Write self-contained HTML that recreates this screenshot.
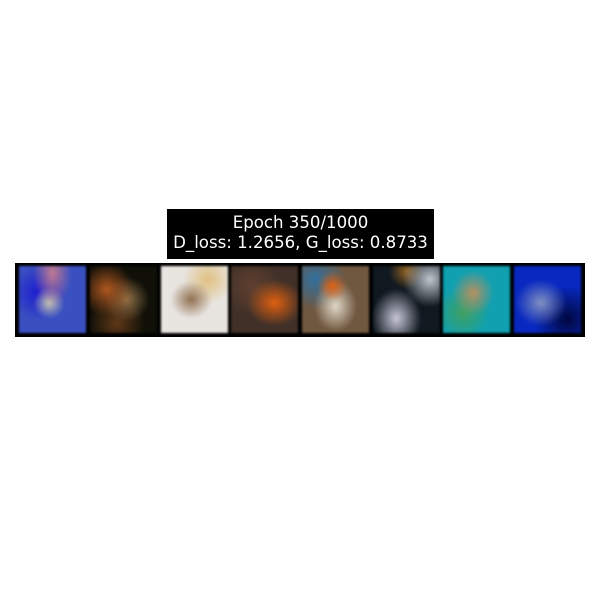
<!DOCTYPE html>
<html><head><meta charset="utf-8"><style>
body{margin:0;width:600px;height:600px;background:#fff;position:relative;overflow:hidden;font-family:"DejaVu Sans","Liberation Sans",sans-serif}
#title{position:absolute;left:167px;top:209px;width:267px;height:50px;background:#000;color:#fff;font-size:16.6px;line-height:20px;text-align:center;padding-top:4px;box-sizing:border-box}
#frame{position:absolute;left:15px;top:263px;width:570px;height:74px;background:#000}
.im{position:absolute;top:3px;width:67px;height:67px;filter:blur(1px)}
</style></head><body>
<div id="title">Epoch 350/1000<br>D_loss: 1.2656, G_loss: 0.8733</div>
<div id="frame">
<div class="im" style="left:4px;background:radial-gradient(ellipse at 50% 10%,#c07890 0,transparent 40%),radial-gradient(ellipse at 45% 55%,#c8c8b0 0,transparent 30%),radial-gradient(circle at 30% 40%,#1a1ad0 0,transparent 45%),#3a50c0"></div>
<div class="im" style="left:75px;background:radial-gradient(circle at 25% 35%,#b05820 0,transparent 40%),radial-gradient(circle at 55% 50%,#907048 0,transparent 45%),radial-gradient(circle at 40% 85%,#603818 0,transparent 40%),#101008"></div>
<div class="im" style="left:146px;background:radial-gradient(ellipse at 45% 50%,#907050 0,transparent 40%),radial-gradient(circle at 70% 20%,#e0c080 0,transparent 35%),#e8e4e0"></div>
<div class="im" style="left:216px;background:radial-gradient(ellipse at 65% 55%,#e06010 0,transparent 45%),radial-gradient(circle at 30% 30%,#604030 0,transparent 45%),#403028"></div>
<div class="im" style="left:287px;background:radial-gradient(circle at 45% 30%,#e06010 0,transparent 25%),radial-gradient(ellipse at 50% 60%,#e0d8c8 0,transparent 45%),radial-gradient(circle at 20% 20%,#3070a0 0,transparent 40%),#705840"></div>
<div class="im" style="left:358px;background:radial-gradient(ellipse at 35% 78%,#c8c8d8 0,transparent 40%),radial-gradient(circle at 85% 20%,#c0c8d0 0,transparent 35%),radial-gradient(circle at 50% 8%,#906020 0,transparent 25%),#101820"></div>
<div class="im" style="left:428px;background:radial-gradient(ellipse at 45% 40%,#b89060 0,transparent 40%),radial-gradient(circle at 30% 70%,#40a060 0,transparent 40%),#10a0b0"></div>
<div class="im" style="left:499px;background:radial-gradient(ellipse at 40% 55%,#8090c0 0,transparent 45%),radial-gradient(circle at 80% 80%,#000840 0,transparent 45%),#0828c0"></div>
</div>
</body></html>
